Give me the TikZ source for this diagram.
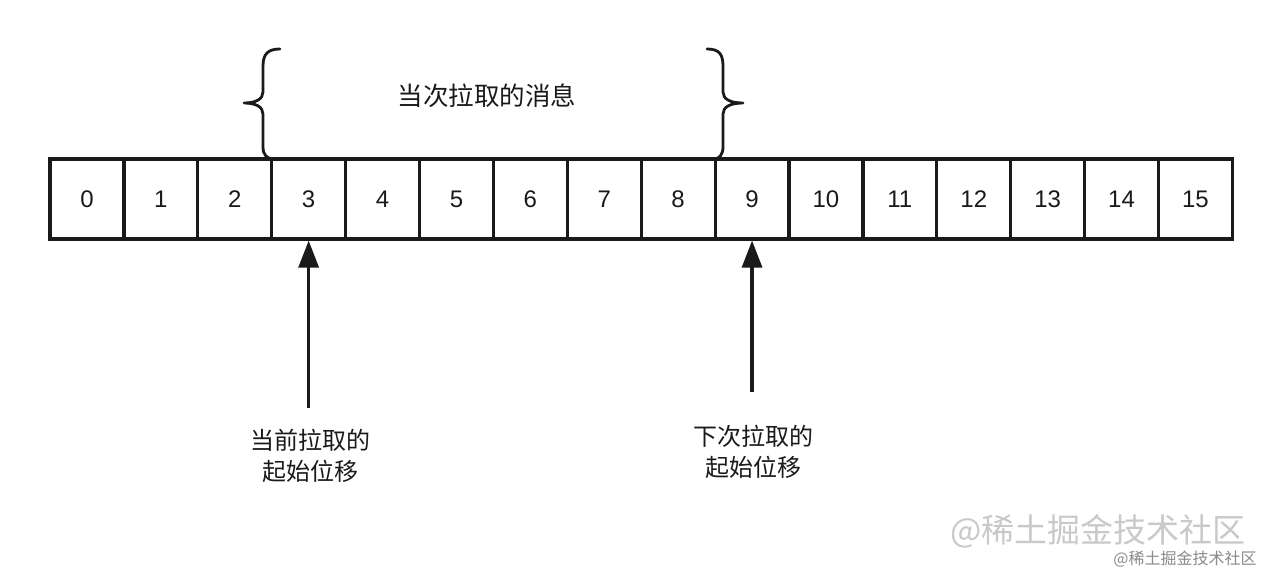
\documentclass[tikz,border=0pt]{standalone}
\usepackage{fontspec}
\setmainfont{Liberation Sans}
\newfontfamily\cjk{Noto Sans CJK SC}
\usetikzlibrary{arrows.meta}
\definecolor{ink}{HTML}{1A1A1A}
\definecolor{wmA}{HTML}{C9C9C9}
\definecolor{wmB}{HTML}{8A8A8A}
\tikzset{
  cell/.style={draw=ink, line width=3.2pt, inner sep=0pt, minimum width=73.9pt, minimum height=80pt,
    font=\fontsize{24}{28}\selectfont, text=ink},
  pointer/.style={draw=ink, line width=3.2pt, -{Triangle[length=27pt,width=20pt]}},
  bracepath/.style={draw=ink, line width=2.8pt, line cap=round, line join=round},
  lbl/.style={align=center, text=ink, font=\cjk\fontsize{24}{31}\selectfont, inner sep=0pt},
}
\begin{document}
\begin{tikzpicture}[x=1pt,y=-1pt]
\fill[white] (0,0) rectangle (1284,582);
\useasboundingbox (0,0) rectangle (1284,582);
% cells
\foreach \i in {0,...,15}{
  \node[cell] (b\i) at ({50+73.9*(\i+0.5)},199) {\i};
}
% braces
\draw[bracepath] (280,49) .. controls (268,49) and (263,54) .. (263,66) -- (263,92)
  .. controls (263,99) and (256,103) .. (244,103)
  .. controls (256,103) and (263,107) .. (263,114) -- (263,147)
  .. controls (263,155) and (267,159) .. (274,159);
\draw[bracepath] (707,49) .. controls (719,49) and (723,54) .. (723,66) -- (723,92)
  .. controls (723,99) and (730,103) .. (743,103)
  .. controls (730,103) and (723,107) .. (723,114) -- (723,147)
  .. controls (723,155) and (719,159) .. (714,159);
\node[lbl, font=\cjk\fontsize{25.5}{28}\selectfont] (msg) at (487,96) {当次拉取的消息};
% pointers
\coordinate (p1) at (b3.south |- 0,408);
\coordinate (p2) at (b9.south |- 0,392);
\draw[pointer] (p1) -- (b3.south);
\draw[pointer] (p2) -- (b9.south);
\node[lbl] (l1) at (310,456) {当前拉取的\\起始位移};
\node[lbl] (l2) at (753,452) {下次拉取的\\起始位移};
% watermark
\node[inner sep=0pt, text=wmA, font=\cjk\fontsize{33}{36}\selectfont] (wm1) at (1098,531) {@稀土掘金技术社区};
\node[inner sep=0pt, text=wmB, font=\cjk\fontsize{16}{18}\selectfont] (wm2) at (1185,559) {@稀土掘金技术社区};
\end{tikzpicture}
\end{document}
